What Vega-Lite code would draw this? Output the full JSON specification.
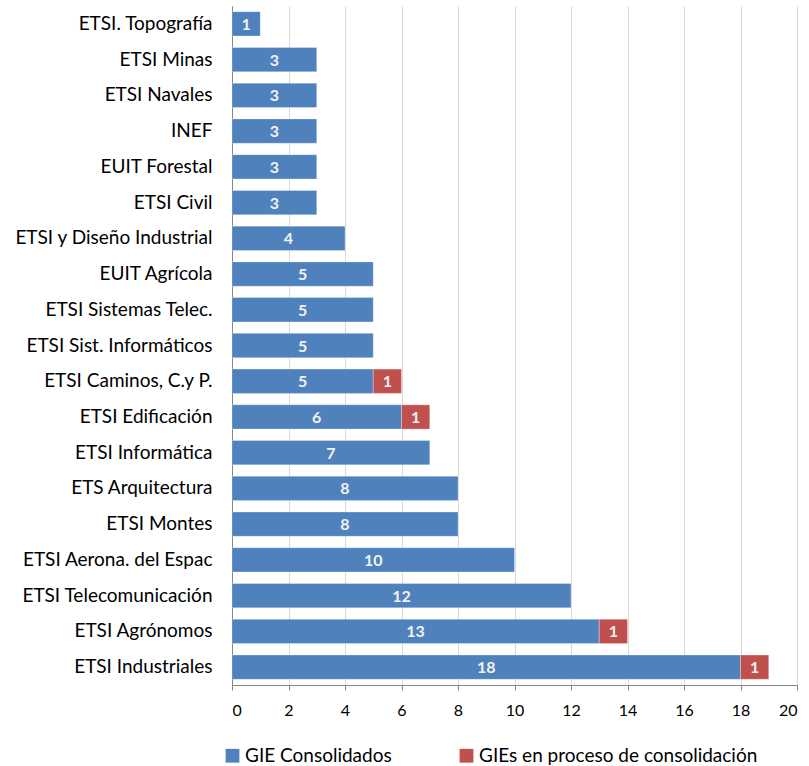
{
  "$schema": "https://vega.github.io/schema/vega-lite/v6.json",
  "autosize": {"type": "none"},
  "padding": {"left": 232, "top": 6, "right": 12, "bottom": 81},
  "width": 565,
  "height": 679,
  "background": "white",
  "config": {
    "font": "Lato",
    "view": {"stroke": null}
  },
  "data": {
    "values": [
      {"centro": "ETSI. Topografía", "serie": "GIE Consolidados", "orden": 1, "valor": 1},
      {"centro": "ETSI Minas", "serie": "GIE Consolidados", "orden": 1, "valor": 3},
      {"centro": "ETSI Navales", "serie": "GIE Consolidados", "orden": 1, "valor": 3},
      {"centro": "INEF", "serie": "GIE Consolidados", "orden": 1, "valor": 3},
      {"centro": "EUIT Forestal", "serie": "GIE Consolidados", "orden": 1, "valor": 3},
      {"centro": "ETSI Civil", "serie": "GIE Consolidados", "orden": 1, "valor": 3},
      {"centro": "ETSI y Diseño Industrial", "serie": "GIE Consolidados", "orden": 1, "valor": 4},
      {"centro": "EUIT Agrícola", "serie": "GIE Consolidados", "orden": 1, "valor": 5},
      {"centro": "ETSI Sistemas Telec.", "serie": "GIE Consolidados", "orden": 1, "valor": 5},
      {"centro": "ETSI Sist.  Informáticos", "serie": "GIE Consolidados", "orden": 1, "valor": 5},
      {"centro": "ETSI Caminos, C.y P.", "serie": "GIE Consolidados", "orden": 1, "valor": 5},
      {"centro": "ETSI Caminos, C.y P.", "serie": "GIEs en proceso de consolidación", "orden": 2, "valor": 1},
      {"centro": "ETSI Edificación", "serie": "GIE Consolidados", "orden": 1, "valor": 6},
      {"centro": "ETSI Edificación", "serie": "GIEs en proceso de consolidación", "orden": 2, "valor": 1},
      {"centro": "ETSI Informática", "serie": "GIE Consolidados", "orden": 1, "valor": 7},
      {"centro": "ETS Arquitectura", "serie": "GIE Consolidados", "orden": 1, "valor": 8},
      {"centro": "ETSI Montes", "serie": "GIE Consolidados", "orden": 1, "valor": 8},
      {"centro": "ETSI Aerona. del Espac", "serie": "GIE Consolidados", "orden": 1, "valor": 10},
      {"centro": "ETSI Telecomunicación", "serie": "GIE Consolidados", "orden": 1, "valor": 12},
      {"centro": "ETSI Agrónomos", "serie": "GIE Consolidados", "orden": 1, "valor": 13},
      {"centro": "ETSI Agrónomos", "serie": "GIEs en proceso de consolidación", "orden": 2, "valor": 1},
      {"centro": "ETSI Industriales", "serie": "GIE Consolidados", "orden": 1, "valor": 18},
      {"centro": "ETSI Industriales", "serie": "GIEs en proceso de consolidación", "orden": 2, "valor": 1}
    ]
  },
  "encoding": {
    "y": {
      "field": "centro",
      "type": "nominal",
      "sort": null,
      "scale": {"paddingInner": 0.32, "paddingOuter": 0.16},
      "axis": {
        "title": null,
        "labelFontSize": 19,
        "labelColor": "#000000",
        "labelPadding": 20,
        "ticks": false,
        "domainColor": "#868686",
        "labelLimit": 300
      }
    },
    "x": {
      "field": "valor",
      "type": "quantitative",
      "stack": "zero",
      "scale": {"domain": [0, 20], "nice": false},
      "axis": {
        "title": null,
        "values": [0, 2, 4, 6, 8, 10, 12, 14, 16, 18, 20],
        "labelFontSize": 16,
        "labelColor": "#000000",
        "labelPadding": 12,
        "tickSize": 5,
        "tickColor": "#868686",
        "domainColor": "#868686",
        "gridColor": "#d9d9d9",
        "grid": true
      }
    },
    "order": {"field": "orden", "type": "quantitative"}
  },
  "layer": [
    {
      "mark": {"type": "bar", "stroke": "white", "strokeWidth": 0.5, "strokeOpacity": 0.6},
      "encoding": {
        "color": {
          "field": "serie",
          "type": "nominal",
          "scale": {
            "domain": ["GIE Consolidados", "GIEs en proceso de consolidación"],
            "range": ["#4F81BD", "#C0504D"]
          },
          "legend": {
            "title": null,
            "orient": "none",
            "legendX": -9,
            "legendY": 740,
            "direction": "horizontal",
            "symbolType": "square",
            "symbolSize": 190,
            "symbolStrokeWidth": 0,
            "labelFontSize": 19,
            "labelColor": "#000000",
            "labelOffset": 3,
            "columnPadding": 65,
            "labelLimit": 400
          }
        }
      }
    },
    {
      "mark": {"type": "text", "color": "#f2f2f2", "fontWeight": "bold", "fontSize": 16, "dy": 1},
      "encoding": {
        "x": {"field": "valor", "type": "quantitative", "stack": "zero", "bandPosition": 0.5},
        "text": {"field": "valor", "type": "quantitative"}
      }
    }
  ]
}
